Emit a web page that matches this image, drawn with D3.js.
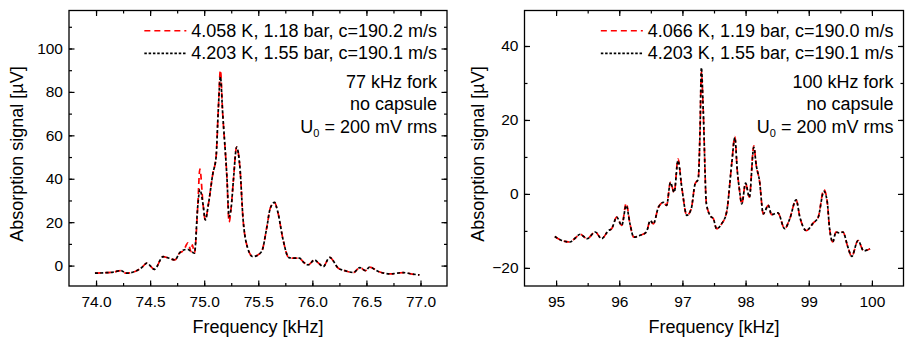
<!DOCTYPE html>
<html>
  <head>
    <script src="https://d3js.org/d3.v7.min.js"></script>
  </head>
  <style>
    body { margin: 0; background: white; }
    text { font-family: "Liberation Sans", Arial, sans-serif; }
  </style>
  <body>
    <svg width="905" height="340"></svg>
    <script>
      // 77 kHz fork (left panel)
      var freq77 = [73.99, 74.08, 74.16, 74.23, 74.28, 74.36, 74.42, 74.47, 74.54, 74.62, 74.67, 74.73, 74.77, 74.81, 74.85, 74.88, 74.89, 74.91, 74.94, 74.96, 74.99, 75.01, 75.04, 75.08, 75.11, 75.13, 75.15, 75.17, 75.21, 75.23, 75.25, 75.27, 75.30, 75.33, 75.36, 75.39, 75.45, 75.53, 75.58, 75.61, 75.65, 75.68, 75.73, 75.78, 75.82, 75.88, 75.92, 75.96, 76.02, 76.06, 76.10, 76.16, 76.24, 76.30, 76.38, 76.44, 76.49, 76.53, 76.61, 76.72, 76.84, 76.91, 76.99];
      var red77 = [-3.5, -3.3, -3.0, -2.3, -3.5, -2.7, -1.0, 1.1, -1.7, 4.1, 3.5, 2.6, 5.7, 7.0, 10.5, 6.4, 9.5, 5.7, 27, 44.5, 28, 21, 28.6, 42.4, 50, 71.4, 90, 71, 40.8, 20, 27, 39.3, 54.6, 45.4, 21, 10.3, 4.1, 6.4, 17.9, 26.3, 29.1, 24.8, 11.8, 3.8, 3.4, 3.4, 1.5, 0.3, 2.6, 1.0, -0.5, 3.8, -1.2, -2.3, -3.2, -0.9, -2.3, -0.7, -2.7, -3.8, -3.2, -3.8, -4.3];
      var black77 = [-3.5, -3.3, -3.0, -2.3, -3.5, -2.7, -1.0, 1.1, -1.7, 4.1, 3.5, 2.6, 5.7, 7.2, 7.5, 6.4, 6.2, 5.7, 27, 35, 28, 21, 28.6, 42.4, 50, 71.4, 87, 71, 40.8, 22.5, 27, 39.3, 54.6, 45.4, 21, 10.3, 4.1, 6.4, 17.9, 26.3, 29.1, 24.8, 11.8, 3.8, 3.4, 3.4, 1.5, 0.3, 2.6, 1.0, -0.5, 3.8, -1.2, -2.3, -3.2, -0.9, -2.3, -0.7, -2.7, -3.8, -3.2, -3.8, -4.3];

      // 100 kHz fork (right panel)
      var freq100 = [94.98, 95.09, 95.22, 95.30, 95.38, 95.49, 95.62, 95.72, 95.83, 95.88, 95.96, 96.04, 96.11, 96.17, 96.23, 96.33, 96.43, 96.49, 96.54, 96.62, 96.70, 96.75, 96.81, 96.87, 96.93, 96.99, 97.07, 97.14, 97.20, 97.25, 97.28, 97.30, 97.33, 97.38, 97.45, 97.49, 97.54, 97.62, 97.70, 97.78, 97.83, 97.87, 97.90, 97.94, 98.00, 98.06, 98.13, 98.17, 98.22, 98.28, 98.36, 98.41, 98.51, 98.62, 98.70, 98.80, 98.86, 98.96, 99.07, 99.15, 99.24, 99.29, 99.33, 99.38, 99.43, 99.49, 99.54, 99.62, 99.68, 99.78, 99.87, 99.97];
      var red100 = [-11.5, -12.6, -13, -12.0, -10.9, -12.1, -10.3, -12.1, -9.9, -9.4, -6.3, -8.5, -2.5, -8.1, -11.7, -11.2, -10.3, -7.2, -8.1, -3.6, -2.3, -3.1, 3.1, 0.4, 9.5, 1.8, -5.8, -4.0, 2.7, 4.0, 17.9, 33.0, 22.4, -2.7, -6.1, -6.7, -9.4, -8.1, -4.9, 8.1, 15.5, 6, 1.5, -2.7, 2.9, -0.9, 13.0, 7.6, 3.6, -5.4, -3.1, -5.6, -5.1, -9.4, -6.7, -1.6, -6.3, -9.9, -7.9, -6.3, 1.2, -1.8, -9.4, -13, -10.3, -10.6, -10.3, -14.4, -16.9, -12.6, -15.4, -14.8];
      var black100 = [-11.5, -12.6, -13, -12.0, -10.9, -12.1, -10.3, -12.1, -9.9, -9.4, -6.3, -8.5, -3.1, -8.1, -11.7, -11.2, -10.3, -7.2, -8.1, -3.6, -2.3, -3.1, 3.1, 0.4, 9.0, 1.8, -5.8, -4.0, 2.7, 4.0, 17.9, 34.2, 22.4, -2.7, -6.1, -6.7, -9.4, -8.1, -4.9, 8.1, 15.2, 6, 1.5, -2.7, 2.9, -0.9, 12.6, 7.6, 3.6, -5.4, -3.1, -5.6, -5.1, -9.4, -6.7, -1.6, -6.3, -9.9, -7.9, -6.3, 0.7, -1.8, -9.4, -13, -10.3, -10.6, -10.3, -14.4, -16.9, -12.6, -15.4, -14.8];

      var xTicks77 = [74.0, 74.5, 75.0, 75.5, 76.0, 76.5, 77.0];
      var xTicks100 = [95, 96, 97, 98, 99, 100];
      var yTicks77 = [0, 20, 40, 60, 80, 100];
      var yTicks100 = [-20, 0, 20, 40];

      var legend77 = ["4.058 K, 1.18 bar, c=190.2 m/s", "4.203 K, 1.55 bar, c=190.1 m/s"];
      var legend100 = ["4.066 K, 1.19 bar, c=190.0 m/s", "4.203 K, 1.55 bar, c=190.1 m/s"];

      var svg = d3.select("svg");
      var plotTop = 10.5, plotBottom = 286;

      function range(a, b, step) {
        var out = [];
        for (var i = 0; a + i * step <= b + 1e-9; i++) out.push(+(a + i * step).toFixed(3));
        return out;
      }

      function panel(opt) {
        var x = d3.scaleLinear().domain(opt.xDomain).range([opt.left, opt.right]);
        var y = d3.scaleLinear().domain(opt.yDomain).range([plotBottom, plotTop]);
        var g = svg.append("g");

        // inward ticks on all four sides (minor, then major)
        var sides = [
          [d3.axisBottom, x, "translate(0," + plotBottom + ")", opt.xMinor, opt.xTicks],
          [d3.axisTop, x, "translate(0," + plotTop + ")", opt.xMinor, opt.xTicks],
          [d3.axisLeft, y, "translate(" + opt.left + ",0)", opt.yMinor, opt.yTicks],
          [d3.axisRight, y, "translate(" + opt.right + ",0)", opt.yMinor, opt.yTicks]
        ];
        sides.forEach(function (s) {
          g.append("g").attr("transform", s[2])
            .call(s[0](s[1]).tickValues(s[3]).tickSize(-3).tickFormat(""));
          g.append("g").attr("transform", s[2])
            .call(s[0](s[1]).tickValues(s[4]).tickSize(-5.5).tickFormat(""));
        });
        g.selectAll(".domain").remove();
        g.selectAll(".tick line").attr("stroke", "#000").attr("stroke-width", 1.2);

        // tick labels
        var lab = g.append("g");
        lab.append("g").attr("transform", "translate(0," + plotBottom + ")")
          .call(d3.axisBottom(x).tickValues(opt.xTicks).tickSize(0).tickPadding(10).tickFormat(opt.xFormat));
        lab.append("g").attr("transform", "translate(" + opt.left + ",0)")
          .call(d3.axisLeft(y).tickValues(opt.yTicks).tickSize(0).tickPadding(6).tickFormat(d3.format("d")));
        lab.selectAll(".domain").remove();
        lab.selectAll("text").attr("font-size", null).attr("font-family", null)
          .style("font-size", "15.5px").attr("fill", "#000");

        // frame
        g.append("rect")
          .attr("x", opt.left).attr("y", plotTop)
          .attr("width", opt.right - opt.left).attr("height", plotBottom - plotTop)
          .attr("fill", "none").attr("stroke", "#000").attr("stroke-width", 1.3);

        // curves: red dashed underneath, black short-dashed on top
        var line = d3.line()
          .x(function (d) { return x(d[0]); })
          .y(function (d) { return y(d[1]); })
          .curve(d3.curveMonotoneX);
        var redData = opt.freq.map(function (f, i) { return [f, opt.red[i]]; });
        var blackData = opt.freq.map(function (f, i) { return [f, opt.black[i]]; });
        g.append("path").datum(redData).attr("d", line)
          .attr("fill", "none").attr("stroke", "#ff0000").attr("stroke-width", 1.7)
          .attr("stroke-dasharray", "6,4");
        g.append("path").datum(blackData).attr("d", line)
          .attr("fill", "none").attr("stroke", "#000").attr("stroke-width", 1.7)
          .attr("stroke-dasharray", "3,2.3");

        // legend
        var lx = opt.right - 10;
        opt.legend.forEach(function (t, i) {
          var by = 36.7 + i * 22.7;
          var txt = g.append("text").attr("x", lx).attr("y", by)
            .attr("text-anchor", "end").style("font-size", "18px").text(t);
          var w = txt.node().getComputedTextLength();
          g.append("line")
            .attr("x1", lx - w - 47).attr("x2", lx - w - 5)
            .attr("y1", by - 6).attr("y2", by - 6)
            .attr("stroke", i == 0 ? "#ff0000" : "#000").attr("stroke-width", 1.6)
            .attr("stroke-dasharray", i == 0 ? "6,4" : "2.5,1.8");
        });

        // annotation
        g.append("text").attr("x", lx).attr("y", 87.7).attr("text-anchor", "end")
          .style("font-size", "18px").text(opt.fork);
        g.append("text").attr("x", lx).attr("y", 110.2).attr("text-anchor", "end")
          .style("font-size", "18px").text("no capsule");
        var u = g.append("text").attr("x", lx).attr("y", 132.8).attr("text-anchor", "end")
          .style("font-size", "18px");
        u.append("tspan").text("U");
        u.append("tspan").attr("dy", 4).style("font-size", "11px").text("0");
        u.append("tspan").attr("dy", -4).text(" = 200 mV rms");

        // axis titles
        svg.append("text")
          .attr("transform", "translate(" + opt.yTitleX + ",154) rotate(-90)")
          .attr("text-anchor", "middle").style("font-size", "18px")
          .text("Absorption signal [µV]");
        svg.append("text")
          .attr("x", (opt.left + opt.right) / 2).attr("y", 333)
          .attr("text-anchor", "middle").style("font-size", "18px")
          .text("Frequency [kHz]");
      }

      panel({
        left: 69, right: 447,
        xDomain: [73.75, 77.245], yDomain: [-9.4, 117.5],
        xTicks: xTicks77, yTicks: yTicks77,
        xMinor: range(74.0, 77.0, 0.25), yMinor: range(0, 110, 10),
        xFormat: d3.format(".1f"),
        freq: freq77, red: red77, black: black77,
        legend: legend77, fork: "77 kHz fork", yTitleX: 23
      });

      panel({
        left: 524.5, right: 903.5,
        xDomain: [94.5, 100.5], yDomain: [-24.9, 49.6],
        xTicks: xTicks100, yTicks: yTicks100,
        xMinor: range(95, 100, 0.5), yMinor: range(-20, 40, 10),
        xFormat: d3.format("d"),
        freq: freq100, red: red100, black: black100,
        legend: legend100, fork: "100 kHz fork", yTitleX: 484
      });
    </script>
  </body>
</html>
